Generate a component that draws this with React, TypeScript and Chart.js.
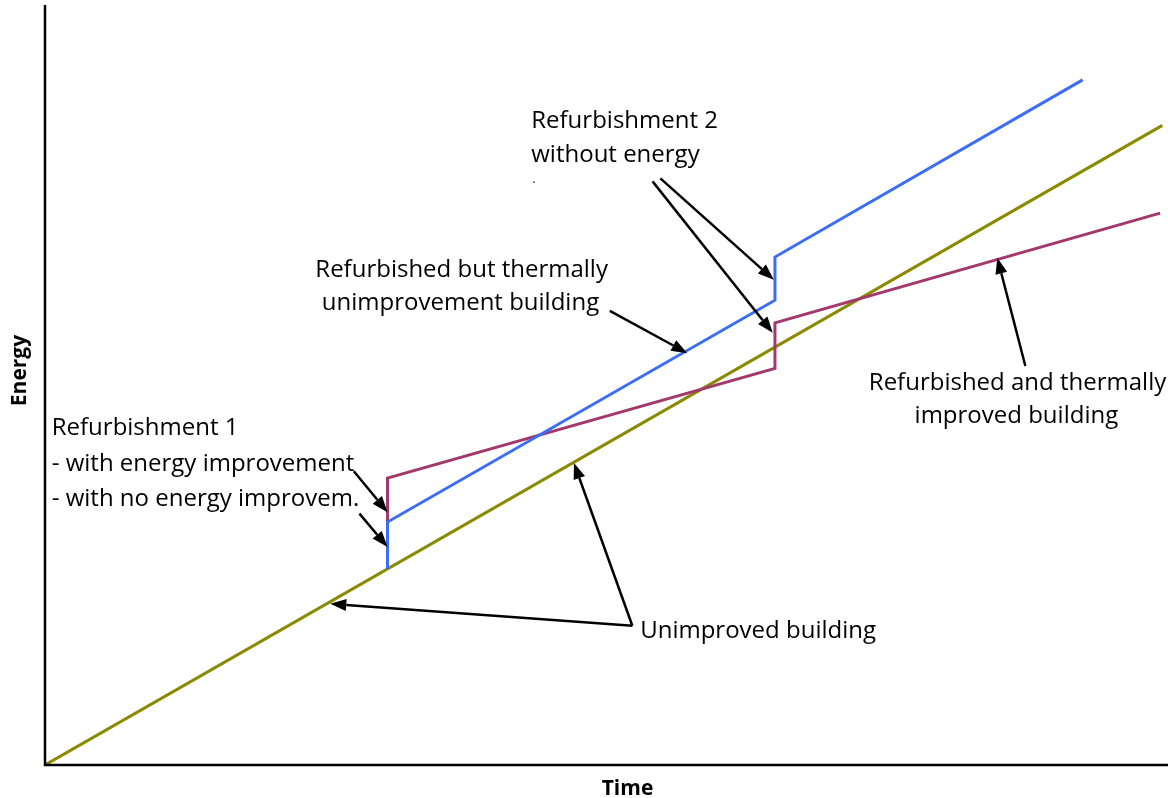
import { useEffect, useRef } from "react";
import { Chart, registerables } from "chart.js";

Chart.register(...registerables);

// Series (abstract units: time 0..100, energy 0..100)
const unimprovedX = [0, 99.5];
const unimprovedY = [0, 84.5];
const thermUnimprovedX = [30.5, 30.5, 65.0, 65.0, 92.4];
const thermUnimprovedY = [25.9, 32.1, 61.4, 67.1, 90.5];
const thermImprovedX = [30.5, 30.5, 65.0, 65.0, 99.3];
const thermImprovedY = [25.9, 37.9, 52.4, 58.4, 72.9];

// Annotation labels (anchored in data units)
const labelTexts = [
  "Refurbishment 2",
  "without energy",
  ".",
  "Refurbished but thermally",
  "unimprovement building",
  "Refurbishment 1",
  "- with energy improvement",
  "- with no energy improvem.",
  "Unimproved building",
  "Refurbished and thermally",
  "improved building",
];
const labelX = [43.3, 43.3, 43.4, 37.1, 37.0, 0.6, 0.6, 0.6, 53.0, 86.6, 86.5];
const labelY = [84.1, 79.7, 76.9, 64.5, 60.1, 43.6, 38.8, 34.2, 16.8, 49.5, 45.2];
const labelAlign = ["left", "left", "left", "center", "center", "left", "left", "left", "left", "center", "center"];

// Arrows: tail -> head (data units)
const arrowTailX = [54.8, 54.1, 50.3, 27.5, 28.0, 52.3, 52.3, 87.3];
const arrowTailY = [77.5, 77.1, 60.0, 38.8, 33.2, 18.4, 18.4, 52.7];
const arrowHeadX = [64.9, 64.8, 57.2, 30.5, 30.5, 25.4, 47.1, 84.8];
const arrowHeadY = [64.1, 57.1, 54.4, 33.4, 28.8, 21.3, 39.9, 67.0];

const xTitle = "Time";
const yTitle = "Energy";

const toPoints = (xs: number[], ys: number[]) => xs.map((x, i) => ({ x, y: ys[i] }));

const FONT = '"Open Sans", "Noto Sans", sans-serif';

const overlayPlugin = {
  id: "overlay",
  afterDatasetsDraw(chart: any) {
    const { ctx, chartArea, scales } = chart;
    const xs = scales.x;
    const ys = scales.y;
    ctx.save();
    // axes
    ctx.strokeStyle = "#000";
    ctx.lineWidth = 2.5;
    ctx.beginPath();
    ctx.moveTo(chartArea.left, chartArea.top - 3);
    ctx.lineTo(chartArea.left, chartArea.bottom);
    ctx.lineTo(chartArea.right, chartArea.bottom);
    ctx.stroke();

    // axis titles
    ctx.fillStyle = "#000";
    ctx.font = `bold 21px ${FONT}`;
    ctx.textAlign = "center";
    ctx.textBaseline = "middle";
    ctx.fillText(xTitle, (chartArea.left + chartArea.right) / 2 + 21, chartArea.bottom + 24);
    ctx.save();
    ctx.translate(chartArea.left - 25, (chartArea.top + chartArea.bottom) / 2 - 16);
    ctx.rotate(-Math.PI / 2);
    ctx.fillText(yTitle, 0, 0);
    ctx.restore();

    // labels
    ctx.textBaseline = "alphabetic";
    labelTexts.forEach((t, i) => {
      ctx.textAlign = labelAlign[i];
      ctx.font = t === "." ? `12px ${FONT}` : `24px ${FONT}`;
      ctx.fillText(t, xs.getPixelForValue(labelX[i]), ys.getPixelForValue(labelY[i]));
    });

    // arrows
    ctx.lineWidth = 2.5;
    arrowTailX.forEach((_, i) => {
      const x1 = xs.getPixelForValue(arrowTailX[i]);
      const y1 = ys.getPixelForValue(arrowTailY[i]);
      const x2 = xs.getPixelForValue(arrowHeadX[i]);
      const y2 = ys.getPixelForValue(arrowHeadY[i]);
      const ang = Math.atan2(y2 - y1, x2 - x1);
      const L = 16;
      const W = 6;
      const bx = x2 - L * Math.cos(ang);
      const by = y2 - L * Math.sin(ang);
      ctx.beginPath();
      ctx.moveTo(x1, y1);
      ctx.lineTo(bx, by);
      ctx.stroke();
      ctx.beginPath();
      ctx.moveTo(x2, y2);
      ctx.lineTo(bx + W * Math.sin(ang), by - W * Math.cos(ang));
      ctx.lineTo(bx - W * Math.sin(ang), by + W * Math.cos(ang));
      ctx.closePath();
      ctx.fill();
    });
    ctx.restore();
  },
};

export default function App() {
  const ref = useRef<HTMLCanvasElement | null>(null);
  useEffect(() => {
    if (!ref.current) return;
    const chart = new Chart(ref.current, {
      type: "line",
      data: {
        datasets: [
          {
            label: "Refurbished but thermally unimproved building",
            data: toPoints(thermUnimprovedX, thermUnimprovedY),
            borderColor: "#3b6ef5",
            borderWidth: 3,
            pointRadius: 0,
            tension: 0,
          },
          {
            label: "Refurbished and thermally improved building",
            data: toPoints(thermImprovedX, thermImprovedY),
            borderColor: "#a2386c",
            borderWidth: 3,
            pointRadius: 0,
            tension: 0,
          },
          {
            label: "Unimproved building",
            data: toPoints(unimprovedX, unimprovedY),
            borderColor: "#8a8a00",
            borderWidth: 3,
            pointRadius: 0,
            tension: 0,
          },
        ],
      },
      options: {
        responsive: false,
        animation: false,
        devicePixelRatio: 1,
        layout: { padding: { left: 45, top: 8, right: 0, bottom: 33 } },
        plugins: { legend: { display: false }, tooltip: { enabled: false } },
        scales: {
          x: { type: "linear", min: 0, max: 100, display: false },
          y: { type: "linear", min: 0, max: 100, display: false },
        },
      },
      plugins: [overlayPlugin],
    } as any);
    return () => chart.destroy();
  }, []);
  return (
    <div style={{ position: "absolute", left: 0, top: 0, width: 1168, height: 798, background: "#fff" }}>
      <canvas ref={ref} width={1168} height={798} style={{ display: "block" }} />
    </div>
  );
}
